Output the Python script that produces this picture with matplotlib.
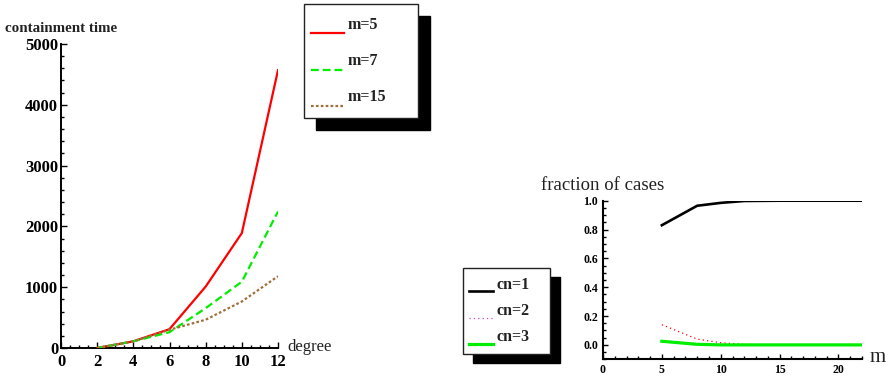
import matplotlib
matplotlib.use("Agg")
import matplotlib.pyplot as plt
from matplotlib.patches import Rectangle
from matplotlib.lines import Line2D
from matplotlib.ticker import MultipleLocator

plt.rcParams['font.family'] = ['Liberation Serif', 'DejaVu Serif']

# ---- data: left chart ----
degree = [2, 4, 6, 8, 10, 12]
time_m5 = [0, 110, 310, 1010, 1890, 4570]
time_m7 = [0, 110, 260, 655, 1090, 2245]
time_m15 = [0, 110, 300, 465, 765, 1180]
left_xticks = [0, 2, 4, 6, 8, 10, 12]
left_yticks = [0, 1000, 2000, 3000, 4000, 5000]

# ---- data: right chart ----
m_vals = [5, 8, 10, 12, 15, 20, 22]
cn1 = [0.83, 0.965, 0.985, 0.998, 1.0, 1.0, 1.0]
cn2 = [0.14, 0.04, 0.015, 0.003, 0.0, 0.0, 0.0]
cn3 = [0.025, 0.004, 0.0, 0.0, 0.0, 0.0, 0.0]
right_xticks = [0, 5, 10, 15, 20]
right_yticks = [0.0, 0.2, 0.4, 0.6, 0.8, 1.0]

W, H = 889, 376
fig = plt.figure(figsize=(W / 100, H / 100), dpi=100)


def fx(x):
    return x / W


def fy(y):
    return 1 - y / H


def style_axes(ax, lw=1.4):
    for s in ['top', 'right']:
        ax.spines[s].set_visible(False)
    for s in ['left', 'bottom']:
        ax.spines[s].set_linewidth(lw)
    ax.tick_params(which='both', direction='in', width=1.0)
    ax.tick_params(which='major', length=4)
    ax.tick_params(which='minor', length=2.2)
    ax.patch.set_alpha(0)


# ---- left axes ----
axL = fig.add_axes([fx(61), fy(348), fx(278) - fx(61), fy(44) - fy(348)])
axL.plot(degree, time_m5, color='#ff0000', lw=1.6, zorder=3)
axL.plot(degree, time_m7, color='#00ee00', lw=1.6, dashes=(3.5, 1.8), zorder=4)
axL.plot(degree, time_m15, color='#a0703c', lw=1.6, dashes=(1.2, 1.0), zorder=5)
axL.set_xlim(0, 12)
axL.set_ylim(0, 5000)
axL.set_xticks(left_xticks)
axL.set_yticks(left_yticks)
axL.xaxis.set_minor_locator(MultipleLocator(0.5))
axL.yaxis.set_minor_locator(MultipleLocator(200))
style_axes(axL)
axL.tick_params(axis='both', which='major', labelsize=12, pad=3)
for t in axL.get_xticklabels() + axL.get_yticklabels():
    t.set_fontweight('bold')
axL.tick_params(axis='y', pad=2)
axL.tick_params(axis='x', pad=4)
fig.text(fx(5), fy(29), 'containment time', fontsize=10.8, fontweight='bold',
         ha='left', va='center', color='#222222')
fig.text(fx(287), fy(347), 'degree', fontsize=12, ha='left', va='center', color='#222222')

# ---- right axes ----
axR = fig.add_axes([fx(603), fy(359.3), fx(862) - fx(603), fy(200.7) - fy(359.3)])
axR.plot(m_vals, cn1, color='black', lw=1.9, zorder=3)
axR.plot(m_vals, cn2, color='#ff0000', lw=0.9, dashes=(1.0, 2.5), zorder=4)
axR.plot(m_vals, cn3, color='#00ee00', lw=2.3, zorder=5)
axR.set_xlim(0, 22)
axR.set_ylim(-0.1, 1.0)
axR.set_xticks(right_xticks)
axR.set_yticks(right_yticks)
axR.set_yticklabels([f'{v:.1f}' for v in right_yticks])
axR.xaxis.set_minor_locator(MultipleLocator(1))
axR.yaxis.set_minor_locator(MultipleLocator(0.05))
style_axes(axR, lw=1.5)
axR.tick_params(axis='both', which='major', labelsize=8.5, length=3.5)
axR.tick_params(which='minor', length=2)
for t in axR.get_xticklabels() + axR.get_yticklabels():
    t.set_fontweight('bold')
fig.text(fx(541), fy(185), 'fraction of cases', fontsize=13.5, ha='left', va='center',
         color='#222222')
fig.text(fx(870), fy(357), 'm', fontsize=15, ha='left', va='center', color='#222222')


# ---- legends (drawn manually, Mathematica style with black drop shadow) ----
def box(x0, y0, x1, y1, dx, dy):
    fig.add_artist(Rectangle((fx(x0 + dx), fy(y1 + dy)), fx(x1 - x0), fy(y0) - fy(y1),
                             transform=fig.transFigure, facecolor='black',
                             edgecolor='black', zorder=10))
    fig.add_artist(Rectangle((fx(x0), fy(y1)), fx(x1 - x0), fy(y0) - fy(y1),
                             transform=fig.transFigure, facecolor='white',
                             edgecolor='#222222', lw=1.0, zorder=11))


def entry(x0, x1, ly, tx, ty, label, size, **kw):
    fig.add_artist(Line2D([fx(x0), fx(x1)], [fy(ly), fy(ly)], transform=fig.transFigure,
                          zorder=12, **kw))
    fig.text(fx(tx), fy(ty), label, fontsize=size, fontweight='bold', ha='left',
             va='center', zorder=13, color='#222222')


box(304, 4, 418, 118, 12, 12)
entry(311, 344, 33, 348, 25, 'm=5', 11.5, color='#ff0000', lw=1.6)
entry(311, 344, 70, 348, 61, 'm=7', 11.5, color='#00ee00', lw=1.6, dashes=(3.5, 1.8))
entry(311, 344, 106, 348, 97, 'm=15', 11.5, color='#a0703c', lw=1.6, dashes=(1.2, 1.0))

box(463, 268, 550, 354, 10, 9)
entry(469, 493, 291, 496, 285, 'cn=1', 11.5, color='black', lw=1.9)
entry(469, 493, 318, 496, 311, 'cn=2', 11.5, color='#cc44cc', lw=0.9, dashes=(1.0, 2.5))
entry(469, 493, 344, 496, 337, 'cn=3', 11.5, color='#00ee00', lw=2.3)

fig.savefig('out.png', dpi=100)
